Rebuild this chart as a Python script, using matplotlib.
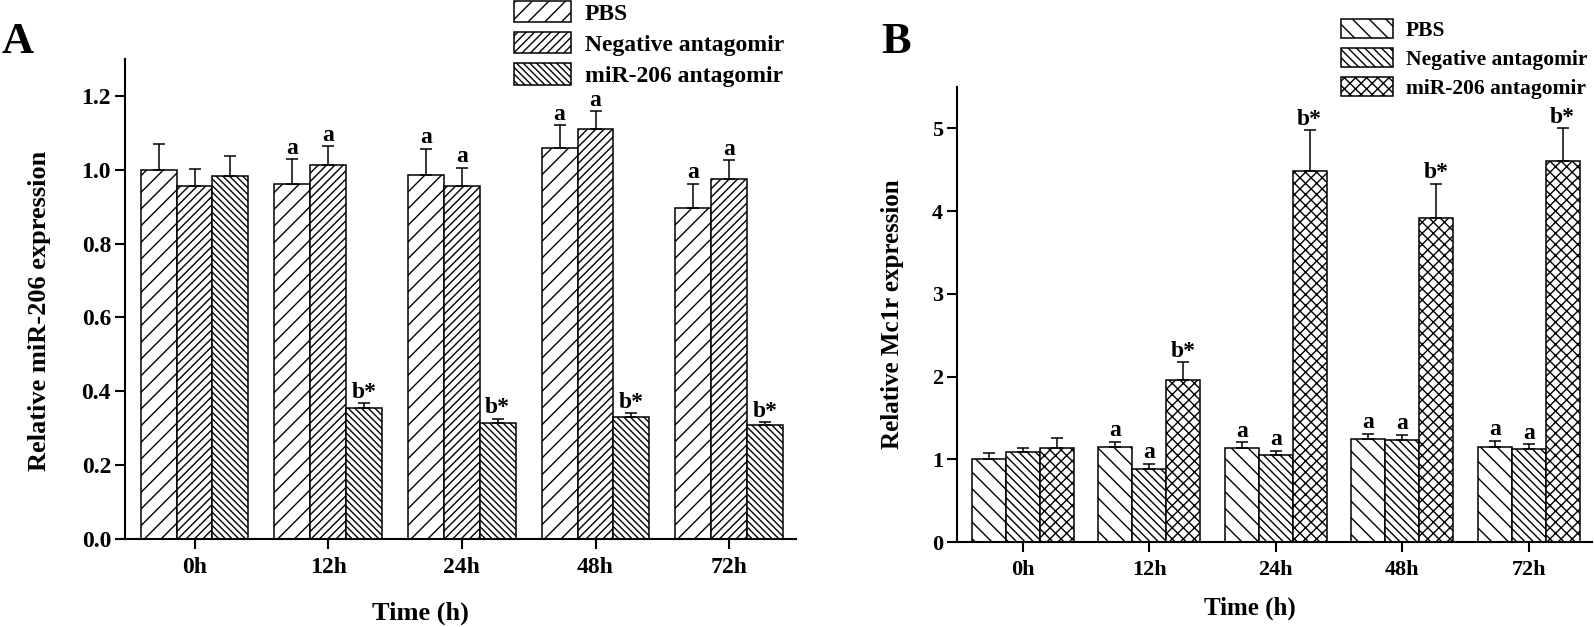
import matplotlib
matplotlib.use('Agg')
import matplotlib.pyplot as plt
import numpy as np
from matplotlib.patches import Patch

# ---------------- data ----------------
categories = ['0h', '12h', '24h', '48h', '72h']
group_labels = ['PBS', 'Negative antagomir', 'miR-206 antagomir']

A_pbs = [1.000, 0.962, 0.987, 1.059, 0.896]
A_pbs_err = [0.071, 0.067, 0.070, 0.062, 0.066]
A_neg = [0.956, 1.012, 0.956, 1.110, 0.975]
A_neg_err = [0.045, 0.052, 0.050, 0.049, 0.051]
A_mir = [0.982, 0.356, 0.314, 0.331, 0.308]
A_mir_err = [0.056, 0.011, 0.011, 0.009, 0.008]
A_pbs_marks = ['', 'a', 'a', 'a', 'a']
A_neg_marks = ['', 'a', 'a', 'a', 'a']
A_mir_marks = ['', 'b*', 'b*', 'b*', 'b*']
A_yticks = [0.0, 0.2, 0.4, 0.6, 0.8, 1.0, 1.2]

B_pbs = [1.000, 1.153, 1.133, 1.246, 1.149]
B_pbs_err = [0.073, 0.061, 0.072, 0.065, 0.073]
B_neg = [1.092, 0.882, 1.048, 1.238, 1.129]
B_neg_err = [0.049, 0.061, 0.052, 0.056, 0.052]
B_mir = [1.133, 1.962, 4.486, 3.920, 4.608]
B_mir_err = [0.121, 0.210, 0.490, 0.410, 0.392]
B_pbs_marks = ['', 'a', 'a', 'a', 'a']
B_neg_marks = ['', 'a', 'a', 'a', 'a']
B_mir_marks = ['', 'b*', 'b*', 'b*', 'b*']
B_yticks = [0, 1, 2, 3, 4, 5]

# ---------------- style ----------------
plt.rcParams['font.family'] = ['Liberation Serif', 'DejaVu Serif']
plt.rcParams['font.weight'] = 'bold'
plt.rcParams['hatch.linewidth'] = 1.0

W, H = 1594, 627
fig = plt.figure(figsize=(W / 100, H / 100), dpi=100)


def px_axes(l, r, t, b):
    return [l / W, 1 - b / H, (r - l) / W, (b - t) / H]


axA = fig.add_axes(px_axes(125, 796, 59, 539))
axB = fig.add_axes(px_axes(957, 1592, 87, 542))


def draw(ax, series, hatches, ylim, yticks, yfmt, ylabel, ylab_xy, xlab_xy,
         tick_fs, label_fs, mark_fs):
    x = np.arange(len(categories))
    w = 0.268
    for i, (vals, errs, marks) in enumerate(series):
        pos = x + (i - 1) * w
        ax.bar(pos, vals, w, color='white', edgecolor='black', hatch=hatches[i],
               linewidth=1.1,
               yerr=[np.zeros(len(vals)), errs],
               error_kw=dict(ecolor='black', elinewidth=1.1, capsize=4, capthick=1.1),
               zorder=2)
        for p, v, e, m in zip(pos, vals, errs, marks):
            if m:
                ax.annotate(m, (p, v + e), xytext=(0, 4), textcoords='offset points',
                            ha='center', va='baseline', fontsize=mark_fs,
                            fontweight='bold')
    ax.set_xlim(-0.52, 4.5)
    ax.set_ylim(*ylim)
    ax.set_xticks(x)
    ax.set_xticklabels(categories)
    ax.set_yticks(yticks)
    ax.set_yticklabels([yfmt.format(t) for t in yticks])
    for s in ['top', 'right']:
        ax.spines[s].set_visible(False)
    for s in ['left', 'bottom']:
        ax.spines[s].set_linewidth(1.5)
    ax.tick_params(axis='both', direction='out', length=7, width=1.5, labelsize=tick_fs)
    ax.tick_params(axis='y', pad=3)
    ax.tick_params(axis='x', pad=6)
    ax.set_ylabel(ylabel, fontsize=label_fs, fontweight='bold')
    ax.yaxis.set_label_coords(*ylab_xy)
    ax.set_xlabel('Time (h)', fontsize=label_fs, fontweight='bold')
    ax.xaxis.set_label_coords(*xlab_xy)


hatchA = ['//', '////', '\\' * 5]
hatchB = ['\\\\', '\\' * 4, 'xxx']

draw(axA,
     [(A_pbs, A_pbs_err, A_pbs_marks), (A_neg, A_neg_err, A_neg_marks),
      (A_mir, A_mir_err, A_mir_marks)],
     hatchA, (0, 1.3), A_yticks, '{:.1f}', 'Relative miR-206 expression',
     (-0.110, 0.475), (0.44, -0.131), 17, 19, 17)

draw(axB,
     [(B_pbs, B_pbs_err, B_pbs_marks), (B_neg, B_neg_err, B_neg_marks),
      (B_mir, B_mir_err, B_mir_marks)],
     hatchB, (0, 5.5), B_yticks, '{:d}', 'Relative Mc1r expression',
     (-0.0835, 0.5), (0.461, -0.121), 16, 18, 17)

# legends
for hatches, x0, y0, fs in [(hatchA, 514, 1, 17), (hatchB, 1341, 19, 15.5)]:
    handles = [Patch(facecolor='white', edgecolor='black', hatch=h, linewidth=1.1)
               for h in hatches]
    fig.legend(handles, group_labels, loc='upper left',
               bbox_to_anchor=(x0 / W, 1 - y0 / H), bbox_transform=fig.transFigure,
               frameon=False, prop={'weight': 'bold', 'size': fs},
               handlelength=2.4, handleheight=1.0, handletextpad=0.6,
               labelspacing=0.32, borderpad=0, borderaxespad=0)

# panel letters
fig.text(2 / W, 1 - 53 / H, 'A', fontsize=32, fontweight='bold', va='baseline')
fig.text(881 / W, 1 - 53 / H, 'B', fontsize=32, fontweight='bold', va='baseline')

fig.savefig('out.png', dpi=100, facecolor='white')
